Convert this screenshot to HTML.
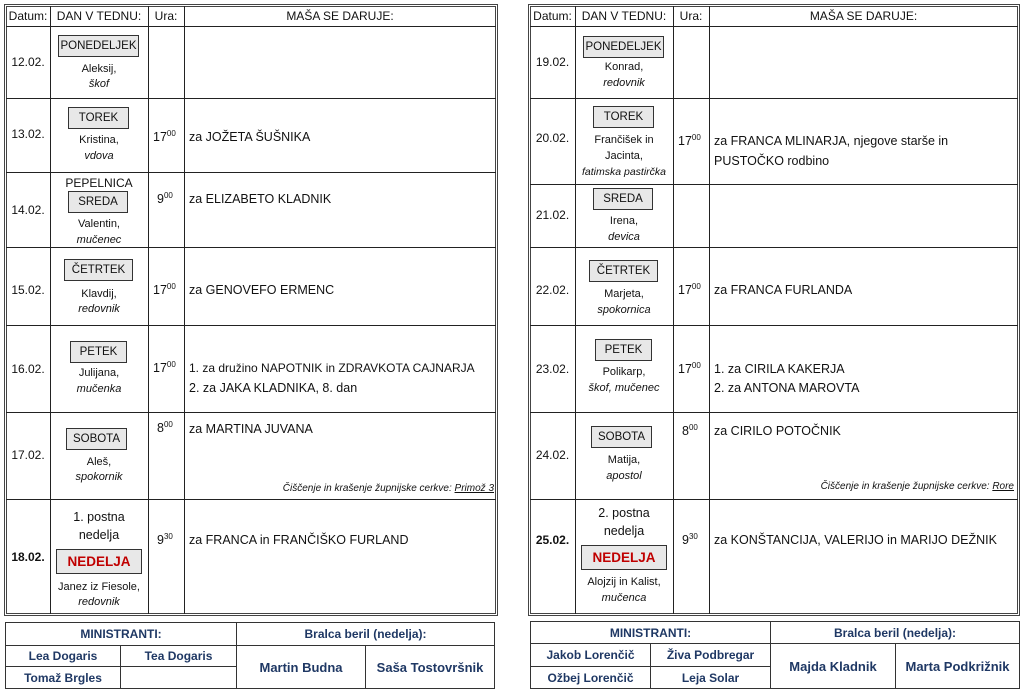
<!DOCTYPE html>
<html><head><meta charset="utf-8">
<style>
*{margin:0;padding:0;box-sizing:border-box}
body{width:1024px;height:692px;background:#fff;position:relative;overflow:hidden;font-family:"Liberation Sans",sans-serif;color:#111}
.o{position:absolute;border:3px double #444}
.v{position:absolute;width:1px;background:#222}
.h{position:absolute;height:1px;background:#222}
.t{position:absolute;line-height:16px;white-space:nowrap;font-size:12px}
.c{text-align:center}
.s{font-size:11px}
.i{font-style:italic;font-size:11px}
.m{font-size:12.5px}
.b{position:absolute;background:#e8e8e8;border:1px solid #333;text-align:center;font-size:11.5px;line-height:20px;white-space:nowrap}
.red{color:#c00000;font-weight:bold;font-size:13.5px}
sup{font-size:8px;vertical-align:5px;line-height:0}
.cl{font-style:italic;font-size:10px}
.cl u{text-decoration:underline}
table.bt{position:absolute;border-collapse:collapse;table-layout:fixed}
table.bt td{border:1px solid #333;text-align:center;font-weight:bold;color:#1f3864;font-size:12px;padding:0;white-space:nowrap}
</style></head><body>

<!-- LEFT TABLE -->
<div class="o" style="left:4px;top:4px;width:494px;height:612px"></div>
<div class="v" style="left:50px;top:6px;height:608px"></div>
<div class="v" style="left:148px;top:6px;height:608px"></div>
<div class="v" style="left:184px;top:6px;height:608px"></div>
<div class="h" style="left:6px;top:26px;width:490px"></div>
<div class="h" style="left:6px;top:98px;width:490px"></div>
<div class="h" style="left:6px;top:172px;width:490px"></div>
<div class="h" style="left:6px;top:247px;width:490px"></div>
<div class="h" style="left:6px;top:325px;width:490px"></div>
<div class="h" style="left:6px;top:412px;width:490px"></div>
<div class="h" style="left:6px;top:499px;width:490px"></div>

<div class="t c" style="left:6px;width:44px;top:8px">Datum:</div>
<div class="t c" style="left:50px;width:98px;top:8px">DAN V TEDNU:</div>
<div class="t c" style="left:148px;width:36px;top:8px">Ura:</div>
<div class="t c" style="left:184px;width:312px;top:8px">MAŠA SE DARUJE:</div>

<div class="t c" style="left:6px;width:44px;top:54px">12.02.</div>
<div class="b" style="left:58px;top:35px;width:81px;height:22px">PONEDELJEK</div>
<div class="t c s" style="left:50px;width:98px;top:61px">Aleksij,</div>
<div class="t c i" style="left:50px;width:98px;top:76px">škof</div>

<div class="t c" style="left:6px;width:44px;top:126px">13.02.</div>
<div class="b" style="left:68px;top:107px;width:61px;height:22px">TOREK</div>
<div class="t c s" style="left:50px;width:98px;top:132px">Kristina,</div>
<div class="t c i" style="left:50px;width:98px;top:148px">vdova</div>
<div class="t m" style="left:153px;top:129px">17<sup>00</sup></div>
<div class="t m" style="left:189px;top:129px">za JOŽETA ŠUŠNIKA</div>

<div class="t c" style="left:6px;width:44px;top:202px">14.02.</div>
<div class="t c" style="left:50px;width:98px;top:175px">PEPELNICA</div>
<div class="b" style="left:68px;top:191px;width:60px;height:22px">SREDA</div>
<div class="t c s" style="left:50px;width:98px;top:216px">Valentin,</div>
<div class="t c i" style="left:50px;width:98px;top:232px">mučenec</div>
<div class="t m" style="left:157px;top:191px">9<sup>00</sup></div>
<div class="t m" style="left:189px;top:191px">za ELIZABETO KLADNIK</div>

<div class="t c" style="left:6px;width:44px;top:282px">15.02.</div>
<div class="b" style="left:64px;top:259px;width:69px;height:22px">ČETRTEK</div>
<div class="t c s" style="left:50px;width:98px;top:286px">Klavdij,</div>
<div class="t c i" style="left:50px;width:98px;top:301px">redovnik</div>
<div class="t m" style="left:153px;top:282px">17<sup>00</sup></div>
<div class="t m" style="left:189px;top:282px">za GENOVEFO ERMENC</div>

<div class="t c" style="left:6px;width:44px;top:361px">16.02.</div>
<div class="b" style="left:70px;top:341px;width:57px;height:22px">PETEK</div>
<div class="t c s" style="left:50px;width:98px;top:365px">Julijana,</div>
<div class="t c i" style="left:50px;width:98px;top:381px">mučenka</div>
<div class="t m" style="left:153px;top:360px">17<sup>00</sup></div>
<div class="t m" style="left:189px;top:360px;font-size:12px">1. za družino NAPOTNIK in ZDRAVKOTA CAJNARJA</div>
<div class="t m" style="left:189px;top:380px">2. za JAKA KLADNIKA, 8. dan</div>

<div class="t c" style="left:6px;width:44px;top:447px">17.02.</div>
<div class="b" style="left:66px;top:428px;width:61px;height:22px">SOBOTA</div>
<div class="t c s" style="left:50px;width:98px;top:454px">Aleš,</div>
<div class="t c i" style="left:50px;width:98px;top:469px">spokornik</div>
<div class="t m" style="left:157px;top:420px">8<sup>00</sup></div>
<div class="t m" style="left:189px;top:421px">za MARTINA JUVANA</div>
<div class="t cl" style="right:530px;top:481px">Čiščenje in krašenje župnijske cerkve: <u>Primož 3</u></div>

<div class="t" style="left:6px;width:44px;top:549px;text-align:center;font-weight:bold">18.02.</div>
<div class="t c m" style="left:50px;width:98px;top:509px">1. postna</div>
<div class="t c m" style="left:50px;width:98px;top:527px">nedelja</div>
<div class="b red" style="left:56px;top:549px;width:86px;height:25px;line-height:23px">NEDELJA</div>
<div class="t c s" style="left:50px;width:98px;top:579px">Janez iz Fiesole,</div>
<div class="t c i" style="left:50px;width:98px;top:594px">redovnik</div>
<div class="t m" style="left:157px;top:532px">9<sup>30</sup></div>
<div class="t m" style="left:189px;top:532px">za FRANCA in FRANČIŠKO FURLAND</div>

<!-- RIGHT TABLE -->
<div class="o" style="left:528px;top:4px;width:492px;height:612px"></div>
<div class="v" style="left:575px;top:6px;height:608px"></div>
<div class="v" style="left:673px;top:6px;height:608px"></div>
<div class="v" style="left:709px;top:6px;height:608px"></div>
<div class="h" style="left:530px;top:26px;width:488px"></div>
<div class="h" style="left:530px;top:98px;width:488px"></div>
<div class="h" style="left:530px;top:184px;width:488px"></div>
<div class="h" style="left:530px;top:247px;width:488px"></div>
<div class="h" style="left:530px;top:325px;width:488px"></div>
<div class="h" style="left:530px;top:412px;width:488px"></div>
<div class="h" style="left:530px;top:499px;width:488px"></div>

<div class="t c" style="left:530px;width:45px;top:8px">Datum:</div>
<div class="t c" style="left:575px;width:98px;top:8px">DAN V TEDNU:</div>
<div class="t c" style="left:673px;width:36px;top:8px">Ura:</div>
<div class="t c" style="left:709px;width:309px;top:8px">MAŠA SE DARUJE:</div>

<div class="t c" style="left:530px;width:45px;top:54px">19.02.</div>
<div class="b" style="left:583px;top:36px;width:81px;height:22px">PONEDELJEK</div>
<div class="t c s" style="left:575px;width:98px;top:59px">Konrad,</div>
<div class="t c i" style="left:575px;width:98px;top:75px">redovnik</div>

<div class="t c" style="left:530px;width:45px;top:130px">20.02.</div>
<div class="b" style="left:593px;top:106px;width:61px;height:22px">TOREK</div>
<div class="t c s" style="left:575px;width:98px;top:132px">Frančišek in</div>
<div class="t c s" style="left:575px;width:98px;top:148px">Jacinta,</div>
<div class="t c i" style="left:575px;width:98px;top:164px;font-size:10.5px">fatimska pastirčka</div>
<div class="t m" style="left:678px;top:133px">17<sup>00</sup></div>
<div class="t m" style="left:714px;top:133px">za FRANCA MLINARJA, njegove starše in</div>
<div class="t m" style="left:714px;top:153px">PUSTOČKO rodbino</div>

<div class="t c" style="left:530px;width:45px;top:207px">21.02.</div>
<div class="b" style="left:593px;top:188px;width:60px;height:22px">SREDA</div>
<div class="t c s" style="left:575px;width:98px;top:213px">Irena,</div>
<div class="t c i" style="left:575px;width:98px;top:229px">devica</div>

<div class="t c" style="left:530px;width:45px;top:282px">22.02.</div>
<div class="b" style="left:589px;top:260px;width:69px;height:22px">ČETRTEK</div>
<div class="t c s" style="left:575px;width:98px;top:286px">Marjeta,</div>
<div class="t c i" style="left:575px;width:98px;top:302px">spokornica</div>
<div class="t m" style="left:678px;top:282px">17<sup>00</sup></div>
<div class="t m" style="left:714px;top:282px">za FRANCA FURLANDA</div>

<div class="t c" style="left:530px;width:45px;top:361px">23.02.</div>
<div class="b" style="left:595px;top:339px;width:57px;height:22px">PETEK</div>
<div class="t c s" style="left:575px;width:98px;top:364px">Polikarp,</div>
<div class="t c i" style="left:575px;width:98px;top:380px">škof, mučenec</div>
<div class="t m" style="left:678px;top:361px">17<sup>00</sup></div>
<div class="t m" style="left:714px;top:361px">1. za CIRILA KAKERJA</div>
<div class="t m" style="left:714px;top:380px">2. za ANTONA MAROVTA</div>

<div class="t c" style="left:530px;width:45px;top:447px">24.02.</div>
<div class="b" style="left:591px;top:426px;width:61px;height:22px">SOBOTA</div>
<div class="t c s" style="left:575px;width:98px;top:452px">Matija,</div>
<div class="t c i" style="left:575px;width:98px;top:468px">apostol</div>
<div class="t m" style="left:682px;top:423px">8<sup>00</sup></div>
<div class="t m" style="left:714px;top:423px">za CIRILO POTOČNIK</div>
<div class="t cl" style="right:10px;top:479px">Čiščenje in krašenje župnijske cerkve: <u>Rore</u></div>

<div class="t" style="left:530px;width:45px;top:532px;text-align:center;font-weight:bold">25.02.</div>
<div class="t c m" style="left:575px;width:98px;top:505px">2. postna</div>
<div class="t c m" style="left:575px;width:98px;top:523px">nedelja</div>
<div class="b red" style="left:581px;top:545px;width:86px;height:25px;line-height:23px">NEDELJA</div>
<div class="t c s" style="left:575px;width:98px;top:574px">Alojzij in Kalist,</div>
<div class="t c i" style="left:575px;width:98px;top:590px">mučenca</div>
<div class="t m" style="left:682px;top:532px">9<sup>30</sup></div>
<div class="t m" style="left:714px;top:532px">za KONŠTANCIJA, VALERIJO in MARIJO DEŽNIK</div>

<!-- BOTTOM TABLES -->
<table class="bt" style="left:5px;top:622px;width:489px;height:66px">
<colgroup><col style="width:115px"><col style="width:116px"><col style="width:129px"><col style="width:129px"></colgroup>
<tr style="height:23px"><td colspan="2">MINISTRANTI:</td><td colspan="2">Bralca beril (nedelja):</td></tr>
<tr style="height:21px"><td>Lea Dogaris</td><td>Tea Dogaris</td><td rowspan="2" style="font-size:13px">Martin Budna</td><td rowspan="2" style="font-size:13px">Saša Tostovršnik</td></tr>
<tr style="height:22px"><td>Tomaž Brgles</td><td></td></tr>
</table>

<table class="bt" style="left:530px;top:621px;width:489px;height:67px">
<colgroup><col style="width:120px"><col style="width:120px"><col style="width:125px"><col style="width:124px"></colgroup>
<tr style="height:22px"><td colspan="2">MINISTRANTI:</td><td colspan="2">Bralca beril (nedelja):</td></tr>
<tr style="height:23px"><td>Jakob Lorenčič</td><td>Živa Podbregar</td><td rowspan="2" style="font-size:13px">Majda Kladnik</td><td rowspan="2" style="font-size:13px">Marta Podkrižnik</td></tr>
<tr style="height:22px"><td>Ožbej Lorenčič</td><td>Leja Solar</td></tr>
</table>

</body></html>
